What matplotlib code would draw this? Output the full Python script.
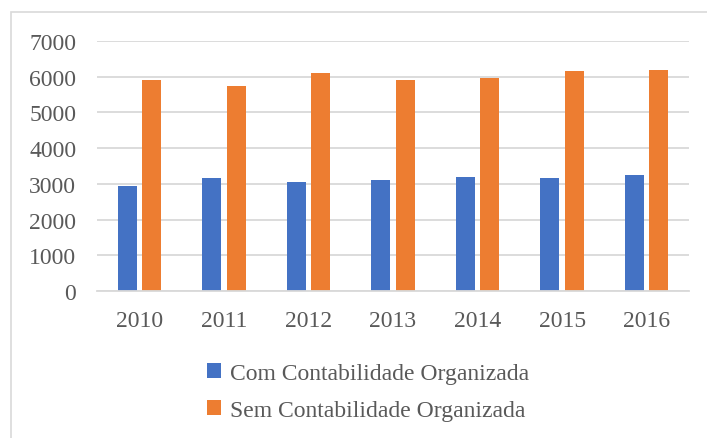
import numpy as np
import matplotlib.pyplot as plt
from matplotlib.patches import Rectangle

anos = ['2010', '2011', '2012', '2013', '2014', '2015', '2016']
com_contab = [2950, 3170, 3050, 3100, 3190, 3170, 3250]
sem_contab = [5920, 5745, 6110, 5920, 5975, 6155, 6175]
yticks = [0, 1000, 2000, 3000, 4000, 5000, 6000, 7000]

plt.rcParams['font.family'] = ['Liberation Serif', 'DejaVu Serif']

fig = plt.figure(figsize=(7.07, 4.39), dpi=100)
ax = fig.add_axes([97 / 707, 1 - 292 / 439, 592 / 707, 250 / 439])

# moldura do grafico (so topo e esquerda ficam visiveis)
fig.patches.append(Rectangle((11 / 707, -0.05), 1.2, 1 - 13 / 439 + 0.05,
                             transform=fig.transFigure, fill=False,
                             edgecolor='#d9d9d9', linewidth=1.2))

x = np.arange(len(anos))
w = 0.225
ax.bar(x - 0.145, com_contab, w, color='#4472c4', label='Com Contabilidade Organizada')
ax.bar(x + 0.145, sem_contab, w, color='#ed7d31', label='Sem Contabilidade Organizada')

ax.set_xlim(-0.5, len(anos) - 0.5)
ax.set_ylim(0, 7000)
ax.set_yticks(yticks)
ax.set_xticks(x)
ax.set_xticklabels(anos)
ax.yaxis.grid(True, color='#d9d9d9', linewidth=1.3)
ax.set_axisbelow(True)
for s in ['top', 'right', 'left']:
    ax.spines[s].set_visible(False)
ax.spines['bottom'].set_color('#d9d9d9')
ax.spines['bottom'].set_linewidth(1.3)
ax.tick_params(length=0, labelsize=17, labelcolor='#595959')
ax.tick_params(axis='y', pad=15)
ax.tick_params(axis='x', pad=14)

leg = fig.legend(loc='center', bbox_to_anchor=(368 / 707, 1 - 393 / 439), ncol=1,
                 frameon=False, fontsize=17, handlelength=0.6, handleheight=0.6,
                 handletextpad=0.4, labelspacing=0.68, labelcolor='#595959')

fig.savefig('out.png', dpi=100, facecolor='white')
